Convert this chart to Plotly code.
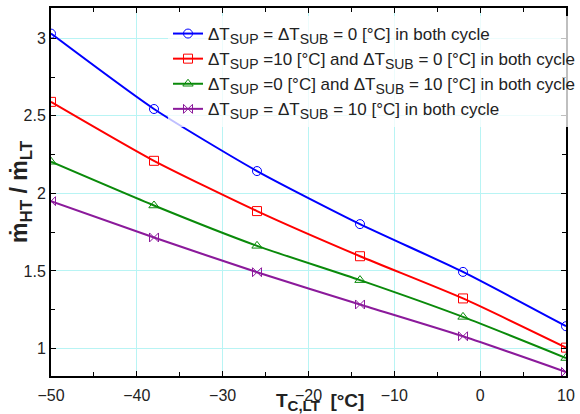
import plotly.graph_objects as go

x_vals = [-50, -38, -26, -14, -2, 10]
blue_vals = [3.03, 2.544, 2.144, 1.802, 1.494, 1.144]
red_vals = [2.59, 2.21, 1.886, 1.595, 1.323, 1.006]
green_vals = [2.204, 1.922, 1.662, 1.441, 1.204, 0.939]
purple_vals = [1.95, 1.716, 1.492, 1.284, 1.079, 0.849]


def sub(t, size=14):
    return "<sub><span style='font-size:%dpx'>%s</span></sub>" % (size, t)


names = [
    "ΔT" + sub("SUP") + " = ΔT" + sub("SUB") + " = 0 [°C] in both cycle",
    "ΔT" + sub("SUP") + " =10 [°C] and ΔT" + sub("SUB") + " = 0 [°C] in both cycle",
    "ΔT" + sub("SUP") + " =0 [°C] and ΔT" + sub("SUB") + " = 10 [°C] in both cycle",
    "ΔT" + sub("SUP") + " = ΔT" + sub("SUB") + " = 10 [°C] in both cycle",
]
series = [blue_vals, red_vals, green_vals, purple_vals]
colors = ["#0000ff", "#ff0000", "#0a8a0a", "#8b1a9b"]
symbols = ["circle-open", "square-open", "triangle-up-open", "bowtie-open"]

fig = go.Figure()
for nm, ys, c, s in zip(names, series, colors, symbols):
    fig.add_trace(go.Scatter(
        x=x_vals, y=ys, name=nm, mode="lines+markers",
        line=dict(color=c, width=2, shape="spline", smoothing=0.6),
        marker=dict(symbol=s, size=9, color=c, line=dict(color=c, width=1)),
    ))

font_family = "Liberation Sans, Arial, sans-serif"
axis_common = dict(
    showline=True, linecolor="black", linewidth=2, mirror="ticks",
    ticks="inside", ticklen=5, tickcolor="black",
    showgrid=True, gridcolor="#b8f4f4", gridwidth=1, zeroline=False,
    tickfont=dict(family=font_family, size=16, color="#222"),
)
fig.update_xaxes(range=[-50, 10], dtick=10, tick0=-50, ticklabelstandoff=4,
                 minor=dict(ticks="inside", dtick=5, ticklen=4, tickcolor="black", showgrid=False),
                 **axis_common)
fig.update_yaxes(range=[0.823, 3.195], dtick=0.5, tick0=1,
                 minor=dict(ticks="inside", dtick=0.25, ticklen=4, tickcolor="black", showgrid=False),
                 **axis_common)

fig.update_layout(
    width=580, height=414,
    margin=dict(l=51, r=14, t=8, b=38, autoexpand=False),
    plot_bgcolor="white", paper_bgcolor="white",
    font=dict(family=font_family, size=17, color="#222"),
    showlegend=True,
    legend=dict(x=(168 - 51) / 515, y=1 - 8 / 368, xanchor="left", yanchor="top",
                bgcolor="rgba(255,255,255,0.75)", borderwidth=0,
                itemwidth=30, tracegroupgap=0,
                font=dict(family=font_family, size=17, color="#222")),
    annotations=[
        dict(text="<b>T" + sub("C,LT", 15) + "  [°C]</b>", xref="paper", yref="paper",
             x=(320 - 51) / 515, y=-(388 - 376) / 368, xanchor="center", yanchor="top",
             showarrow=False, font=dict(family=font_family, size=19, color="#222")),
        dict(text="<b>ṁ" + sub("HT", 17) + " / ṁ" + sub("LT", 17) + "</b>", xref="paper", yref="paper",
             x=-47 / 515, y=0.5, xanchor="left", yanchor="middle", textangle=-90,
             showarrow=False, font=dict(family=font_family, size=23, color="#222")),
    ],
)

fig.write_html("out.html", config={"displayModeBar": False},
               post_script="document.body.style.margin='0';")
